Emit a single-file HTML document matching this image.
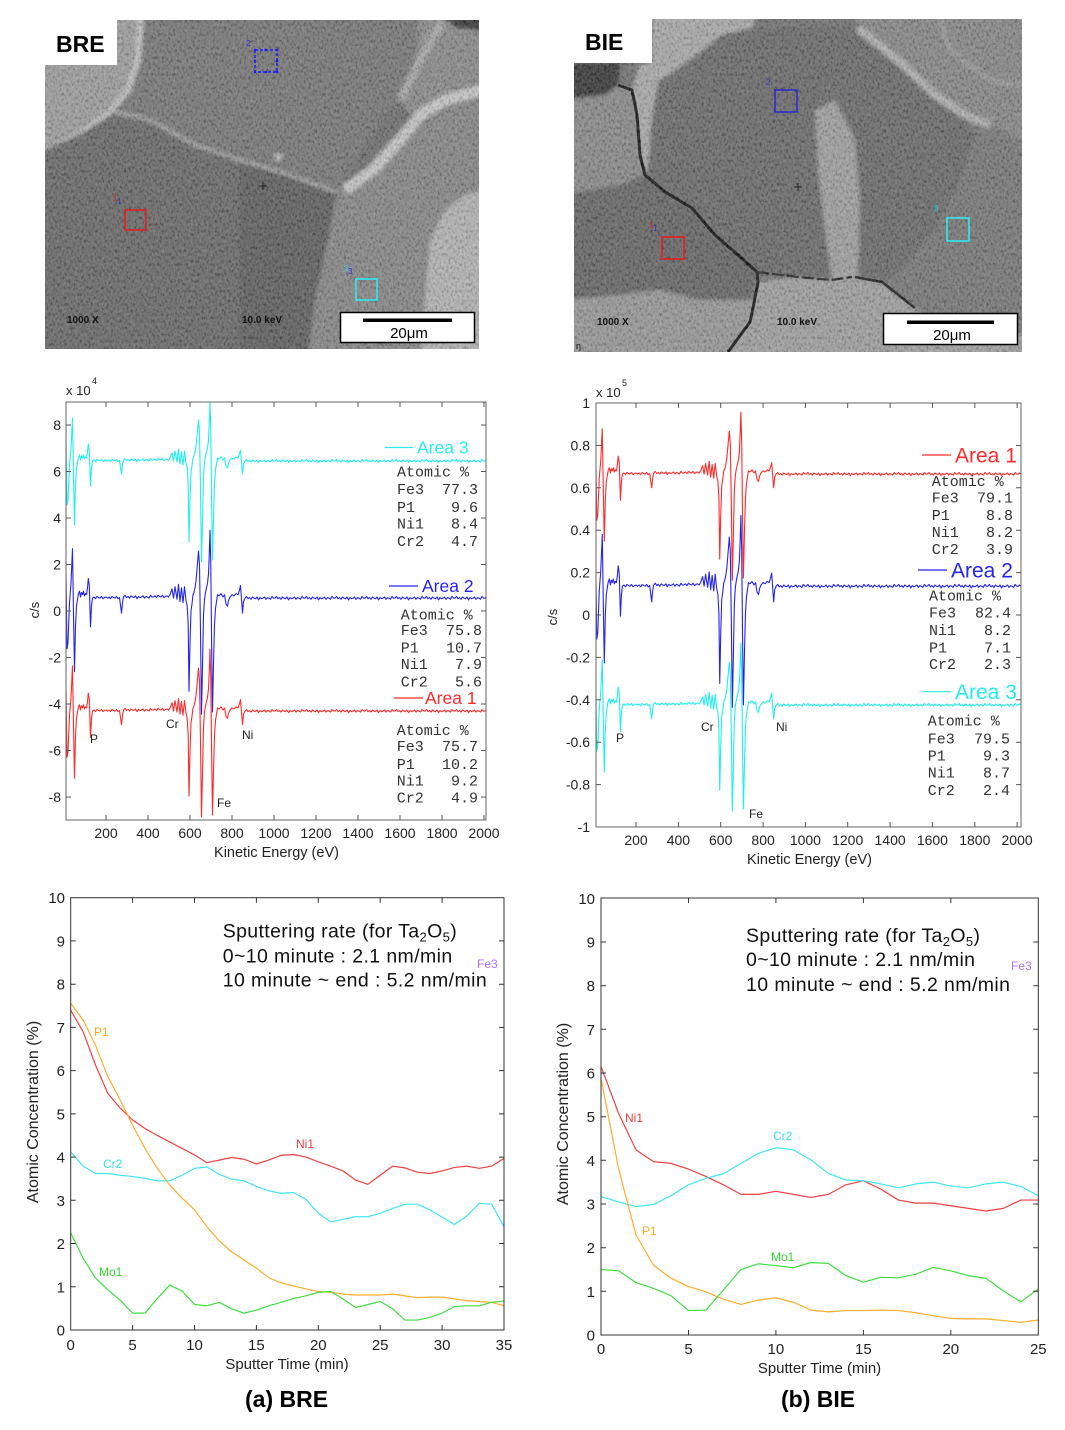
<!DOCTYPE html>
<html><head><meta charset="utf-8"><style>
html,body{margin:0;padding:0;background:#fff;}
svg{display:block;}
text{font-family:"Liberation Sans",Arial,sans-serif;}
.mono{font-family:"Liberation Mono","Courier New",monospace;font-size:15px;fill:#333;}
.tk{font-size:14px;fill:#222;}
.tb{font-size:15px;fill:#222;}
</style></head><body>
<svg width="1065" height="1430" viewBox="0 0 1065 1430" xmlns="http://www.w3.org/2000/svg">
<defs>
<clipPath id="c1"><rect x="45" y="20" width="434" height="329"/></clipPath>
<clipPath id="c2"><rect x="574" y="19" width="448" height="333"/></clipPath>
<clipPath id="cs1"><rect x="66" y="402" width="420" height="418"/></clipPath>
<clipPath id="cs2"><rect x="596" y="403" width="425" height="424"/></clipPath>
<clipPath id="cb1"><rect x="70.7" y="897.7" width="433.3" height="432.3"/></clipPath>
<clipPath id="cb2"><rect x="601" y="898" width="437.3" height="437"/></clipPath>
<filter id="soft" x="-5%" y="-5%" width="110%" height="110%"><feGaussianBlur stdDeviation="1.8"/></filter>
<filter id="tex" x="0" y="0" width="1" height="1"><feTurbulence type="fractalNoise" baseFrequency="0.45 0.3" numOctaves="3" seed="7"/><feColorMatrix type="matrix" values="1.6 0 0 0 -0.42  1.6 0 0 0 -0.42  1.6 0 0 0 -0.42  0 0 0 0 0.2"/></filter>
<path id="sp" fill="none" vector-effect="non-scaling-stroke" stroke-linejoin="round" d="M66,-20 L67,45 L68,40 L69.5,5 L71,-12 L72.5,-42 L73.5,15 L74.5,65 L75.5,25 L76.5,8 L77.5,2 L78.5,-3 L79.5,-5 L80.5,0 L81.5,-4 L82.5,-2 L83.5,-5 L84.5,-1 L85.5,-3 L86.5,-2 L87.5,-8 L88.3,-16 L89.3,-10 L90.5,26 L91.5,8 L92.5,1
l1.5,-1 l1.5,1.5 l1.5,-2 l1.5,1 l1.5,0.5 l1.5,-1.5 l1.5,2 l1.5,-1 l1.5,-0.5 l1.5,1
l1.5,-1 l1.5,1.5 l1.5,-2 l1.5,1 l1.5,0.5 l1.5,-1.5 l1.5,2 l1.5,-1
L121.5,14 L122.5,5 L123.5,0
l1.5,-1.5 l1.5,2 l1.5,-1 l1.5,1.5 l1.5,-2 l1.5,1 l1.5,0.5 l1.5,-1.5 l1.5,2.5 l1.5,-2 l1.5,1 l1.5,-0.5 l1.5,-1 l1.5,2 l1.5,-1.5 l1.5,0.5 l1.5,1 l1.5,-2.5 l1.5,1.5 l1.5,0
l1.5,-1 l1.5,1.5 l1.5,-2 l1.5,1 l1.5,0.5 l1.5,-1.5 l1.5,2 l1.5,-1 l1.5,-0.5 l1.5,1
L170,-2 L172,-7 L173.5,1 L175,-9 L177,2 L178.5,-11 L180,4 L181.5,-8 L183,5 L184.5,-9 L186,3 L187.2,8 L188.2,24 L189,82 L190,40 L191,12 L192,6 L193,-2 L194,-4 L195,-8 L196,-14 L197,-24 L198.5,-40 L199.5,-28 L200.5,30 L201.5,102 L202.5,60 L203.5,16 L204.5,2 L205.5,-4 L206.5,-8 L207.5,-12 L208.5,-20 L209.3,-38 L210,-58 L210.8,-28 L211.6,40 L212.5,100 L213.5,58 L214.5,24 L215.5,10 L216.5,4 L217.5,-2 L219,-1 L221,-3 L223,0 L224.5,-2 L226,6 L227.5,8 L228.5,3 L230,0 L232,-2 L234,-1 L236,-3 L238,-2 L239.5,-6 L240.5,-10 L241.5,2 L242.5,14 L243.5,4 L245,1
l1.5,-1.5 l1.5,2 l1.5,-1 l1.5,1.5 l1.5,-2 l1.5,1 l1.5,0.5 l1.5,-1.5 l1.5,2.5 l1.5,-2 l1.5,1 l1.5,-0.5 l1.5,-1 l1.5,2 l1.5,-1.5 l1.5,0.5 l1.5,1 l1.5,-2.5 l1.5,1.5 l1.5,0
l1.5,-1.5 l1.5,2 l1.5,-1 l1.5,1.5 l1.5,-2 l1.5,1 l1.5,0.5 l1.5,-1.5 l1.5,2.5 l1.5,-2 l1.5,1 l1.5,-0.5 l1.5,-1 l1.5,2 l1.5,-1.5 l1.5,0.5 l1.5,1 l1.5,-2.5 l1.5,1.5 l1.5,0
l1.5,-1.5 l1.5,2 l1.5,-1 l1.5,1.5 l1.5,-2 l1.5,1 l1.5,0.5 l1.5,-1.5 l1.5,2.5 l1.5,-2 l1.5,1 l1.5,-0.5 l1.5,-1 l1.5,2 l1.5,-1.5 l1.5,0.5 l1.5,1 l1.5,-2.5 l1.5,1.5 l1.5,0
l1.5,-1.5 l1.5,2 l1.5,-1 l1.5,1.5 l1.5,-2 l1.5,1 l1.5,0.5 l1.5,-1.5 l1.5,2.5 l1.5,-2 l1.5,1 l1.5,-0.5 l1.5,-1 l1.5,2 l1.5,-1.5 l1.5,0.5 l1.5,1 l1.5,-2.5 l1.5,1.5 l1.5,0
l1.5,-1.5 l1.5,2 l1.5,-1 l1.5,1.5 l1.5,-2 l1.5,1 l1.5,0.5 l1.5,-1.5 l1.5,2.5 l1.5,-2 l1.5,1 l1.5,-0.5 l1.5,-1 l1.5,2 l1.5,-1.5 l1.5,0.5 l1.5,1 l1.5,-2.5 l1.5,1.5 l1.5,0
l1.5,-1.5 l1.5,2 l1.5,-1 l1.5,1.5 l1.5,-2 l1.5,1 l1.5,0.5 l1.5,-1.5 l1.5,2.5 l1.5,-2 l1.5,1 l1.5,-0.5 l1.5,-1 l1.5,2 l1.5,-1.5 l1.5,0.5 l1.5,1 l1.5,-2.5 l1.5,1.5 l1.5,0
l1.5,-1.5 l1.5,2 l1.5,-1 l1.5,1.5 l1.5,-2 l1.5,1 l1.5,0.5 l1.5,-1.5 l1.5,2.5 l1.5,-2 l1.5,1 l1.5,-0.5 l1.5,-1 l1.5,2 l1.5,-1.5 l1.5,0.5 l1.5,1 l1.5,-2.5 l1.5,1.5 l1.5,0
l1.5,-1.5 l1.5,2 l1.5,-1 l1.5,1.5 l1.5,-2 l1.5,1 l1.5,0.5 l1.5,-1.5 l1.5,2.5 l1.5,-2 l1.5,1 l1.5,-0.5 l1.5,-1 l1.5,2 l1.5,-1.5 l1.5,0.5 l1.5,1 l1.5,-2.5 l1.5,1.5 l1.5,0
l1.5,-1 l1.5,1 l1.5,-1"/>
</defs>

<!-- ============ LEFT SEM (BRE) ============ -->
<g clip-path="url(#c1)">
<rect x="45" y="20" width="434" height="329" fill="#6c6c6c"/>
<g filter="url(#soft)">
<polygon points="140,20 440,20 420,60 400,100 380,120 337,192 300,175 260,165 195,145 150,118 115,112 128,90 138,60" fill="#747474"/>
<polygon points="30,10 140,10 138,60 128,90 108,114 82,133 60,145 30,155" fill="#9c9c9c"/>
<polyline points="141,15 138,60 128,90 108,114 82,133 60,145 40,154" fill="none" stroke="#c2c2c2" stroke-width="6"/>
<polygon points="40,152 82,133 115,112 150,118 195,145 240,160 240,360 40,360" fill="#666"/>
<polygon points="240,160 300,180 337,192 330,230 315,300 307,360 240,360" fill="#5b5b5b"/>
<polyline points="115,112 150,120 195,145 240,160 290,175 337,192" fill="none" stroke="#a0a0a0" stroke-width="4"/>
<polygon points="337,192 360,175 380,150 405,125 440,100 490,90 490,360 307,360 315,300 330,230" fill="#848484"/>
<polygon points="420,10 490,10 490,90 440,100 410,115 400,100 415,60" fill="#888"/>
<polyline points="490,88 445,100 420,115 400,140 375,168 345,190" fill="none" stroke="#c6c6c6" stroke-width="11"/>
<polyline points="442,22 420,60 400,100" fill="none" stroke="#a8a8a8" stroke-width="8"/>
<polygon points="438,10 490,10 490,32 455,27" fill="#333"/>
<polygon points="420,360 425,300 430,240 445,210 465,195 490,188 490,360" fill="#b2b2b2"/>
<circle cx="278" cy="157" r="4" fill="#b8b8b8"/>
</g>
<rect x="45" y="20" width="434" height="329" filter="url(#tex)"/>
</g>
<rect x="45" y="20" width="72" height="45" fill="#fff"/>
<text x="56" y="52" font-size="23" font-weight="bold" fill="#000">BRE</text>
<rect x="255" y="50" width="22" height="22" fill="none" stroke="#1a1aff" stroke-width="1.5" stroke-dasharray="3,2"/>
<g fill="#1a1aff"><circle cx="255" cy="50" r="1.3"/><circle cx="266" cy="50" r="1.3"/><circle cx="277" cy="50" r="1.3"/><circle cx="255" cy="61" r="1.3"/><circle cx="277" cy="61" r="1.3"/><circle cx="255" cy="72" r="1.3"/><circle cx="266" cy="72" r="1.3"/><circle cx="277" cy="72" r="1.3"/></g>
<text x="246" y="46" font-size="8" fill="#3030e0">2</text>
<rect x="125" y="210" width="21" height="20" fill="none" stroke="#e02020" stroke-width="1.6"/>
<text x="113" y="201" font-size="8" fill="#e02020">1</text><text x="117" y="204" font-size="8" fill="#3030e0">1</text>
<rect x="356" y="279" width="21" height="21" fill="none" stroke="#30e8f0" stroke-width="1.6"/>
<text x="344" y="271" font-size="8" fill="#30d0e0">3</text><text x="348" y="274" font-size="8" fill="#3030e0">3</text>
<path d="M259,186h8M263,182v8" stroke="#222" stroke-width="1"/>
<text x="67" y="323" font-size="10" font-weight="bold" fill="#111">1000 X</text>
<text x="242" y="323" font-size="10" font-weight="bold" fill="#111">10.0 keV</text>
<rect x="340.5" y="312.5" width="134" height="30" fill="#fff" stroke="#000" stroke-width="1.5"/>
<rect x="363" y="318.5" width="89" height="3.5" fill="#000"/>
<text x="409" y="338" font-size="15" text-anchor="middle" fill="#000">20μm</text>

<!-- ============ RIGHT SEM (BIE) ============ -->
<g clip-path="url(#c2)">
<rect x="574" y="19" width="448" height="333" fill="#707070"/>
<g filter="url(#soft)">
<polygon points="560,100 605,95 618,85 632,90 637,115 640,155 645,175 620,185 560,195" fill="#888"/>
<polygon points="560,195 620,185 645,175 665,192 692,208 715,235 738,255 757,272 753,300 730,305 700,300 660,290 620,295 560,300" fill="#646464"/>
<polygon points="560,300 620,295 660,290 700,300 753,300 753,308 728,365 560,365" fill="#969696"/>
<polygon points="753,300 757,282 798,277 832,280 852,277 882,282 915,308 940,330 1035,335 1035,365 728,365" fill="#9e9e9e"/>
<polygon points="632,90 640,63 652,63 652,10 760,10 752,28 722,35 690,60 658,82 652,120 650,160 645,175 640,155 637,115" fill="#a8a8a8"/>
<polygon points="658,82 690,60 722,35 752,28 858,28 900,60 935,95 965,115 975,135 960,180 935,230 900,270 882,282 852,277 832,280 798,277 757,272 738,255 715,235 692,208 665,192 648,175 650,140 652,120" fill="#676767"/>
<polygon points="815,110 835,100 855,140 860,200 858,280 832,280 825,230 818,170" fill="#9e9e9e"/>
<polygon points="965,115 1000,130 1035,150 1035,335 940,330 915,308 882,282 900,270 935,230 960,180 975,135" fill="#747474"/>
<polygon points="858,10 1035,10 1035,150 1000,130 965,115 935,95 900,60 858,28" fill="#858585"/>
<polyline points="858,28 900,62 935,95 965,115 990,125" fill="none" stroke="#b0b0b0" stroke-width="8"/>
<polyline points="940,19 950,50 990,80 1022,85" fill="none" stroke="#9c9c9c" stroke-width="4"/>
<polygon points="560,63 620,63 618,85 605,95 560,100" fill="#353535"/>
</g>
<polyline points="618,85 632,90 637,115 640,155 645,175 665,192 692,208 715,235 738,255 757,272 758,282 753,308 750,322 728,352" fill="none" stroke="#111" stroke-width="3" stroke-linejoin="round"/>
<polyline points="757,272 798,277 832,280 852,277" fill="none" stroke="#222" stroke-width="2.2" stroke-dasharray="12,3"/>
<polyline points="855,277 882,282 915,308" fill="none" stroke="#1a1a1a" stroke-width="2.6"/>
<rect x="574" y="19" width="448" height="333" filter="url(#tex)"/>
</g>
<rect x="574" y="19" width="78" height="44" fill="#fff"/>
<text x="585" y="50" font-size="23" font-weight="bold" fill="#000">BIE</text>
<rect x="775" y="90" width="22" height="22" fill="none" stroke="#2828d0" stroke-width="1.5"/>
<text x="766" y="85" font-size="8" fill="#3030e0">2</text>
<rect x="662" y="237" width="22" height="22" fill="none" stroke="#e02020" stroke-width="1.6"/>
<text x="649" y="228" font-size="8" fill="#e02020">1</text><text x="653" y="231" font-size="8" fill="#3030e0">1</text>
<rect x="947" y="218" width="22" height="23" fill="none" stroke="#30e8f0" stroke-width="1.6"/>
<text x="934" y="211" font-size="8" fill="#30d0e0">3</text>
<path d="M794,187h8M798,183v8" stroke="#222" stroke-width="1"/>
<text x="597" y="325" font-size="10" font-weight="bold" fill="#111">1000 X</text>
<text x="777" y="325" font-size="10" font-weight="bold" fill="#111">10.0 keV</text>
<text x="576" y="349" font-size="9" fill="#111">η</text>
<rect x="883.5" y="313.5" width="134" height="31" fill="#fff" stroke="#000" stroke-width="1.5"/>
<rect x="907" y="320.5" width="87" height="3.5" fill="#000"/>
<text x="952" y="340" font-size="15" text-anchor="middle" fill="#000">20μm</text>

<!-- ============ LEFT SPECTRUM ============ -->
<g clip-path="url(#cs1)" stroke-width="1.1">
<use href="#sp" transform="translate(0,710) scale(1,1.05)" stroke="#ff2a2a"/>
<use href="#sp" transform="translate(0,597) scale(1,1.15)" stroke="#2424f0"/>
<use href="#sp" transform="translate(0,460)" stroke="#22eeee"/>
</g>
<rect x="66" y="402" width="420" height="418" fill="none" stroke="#666" stroke-width="1"/>
<path fill="none" stroke="#555" stroke-width="1" d="M66,425h5M66,471.5h5M66,518h5M66,564.5h5M66,611h5M66,657.5h5M66,704h5M66,750.5h5M66,797h5
M486,425h-5M486,471.5h-5M486,518h-5M486,564.5h-5M486,611h-5M486,657.5h-5M486,704h-5M486,750.5h-5M486,797h-5
M106,820v-5M148,820v-5M190,820v-5M232,820v-5M274,820v-5M316,820v-5M358,820v-5M400,820v-5M442,820v-5M484,820v-5
M106,402v5M148,402v5M190,402v5M232,402v5M274,402v5M316,402v5M358,402v5M400,402v5M442,402v5M484,402v5"/>
<g class="tk" text-anchor="end">
<text x="61" y="430">8</text><text x="61" y="476.5">6</text><text x="61" y="523">4</text><text x="61" y="569.5">2</text><text x="61" y="616">0</text><text x="61" y="662.5">-2</text><text x="61" y="709">-4</text><text x="61" y="755.5">-6</text><text x="61" y="802">-8</text>
</g>
<g class="tk" text-anchor="middle">
<text x="106" y="838">200</text><text x="148" y="838">400</text><text x="190" y="838">600</text><text x="232" y="838">800</text><text x="274" y="838">1000</text><text x="316" y="838">1200</text><text x="358" y="838">1400</text><text x="400" y="838">1600</text><text x="442" y="838">1800</text><text x="484" y="838">2000</text>
</g>
<text x="66" y="395" font-size="13" fill="#222">x 10</text><text x="92" y="384" font-size="9" fill="#222">4</text>
<text transform="translate(39,610) rotate(-90)" font-size="13" text-anchor="middle" fill="#222">c/s</text>
<text x="276.5" y="857" font-size="14.5" text-anchor="middle" fill="#222">Kinetic Energy (eV)</text>
<g font-size="12" fill="#222"><text x="90" y="743">P</text><text x="166" y="728">Cr</text><text x="242" y="739">Ni</text><text x="217" y="807">Fe</text></g>
<line x1="385" y1="447.5" x2="413" y2="447.5" stroke="#22eeee" stroke-width="1.2"/>
<text x="417" y="453.5" font-size="17.5" fill="#22eeee">Area 3</text>
<text class="mono" x="397" y="476.7">Atomic %</text>
<text class="mono" x="397" y="494">Fe3</text><text class="mono" x="397" y="512">P1</text><text class="mono" x="397" y="528.3">Ni1</text><text class="mono" x="397" y="546">Cr2</text>
<g text-anchor="end"><text class="mono" x="478" y="494">77.3</text><text class="mono" x="478" y="512">9.6</text><text class="mono" x="478" y="528.3">8.4</text><text class="mono" x="478" y="546">4.7</text></g>
<line x1="389" y1="586" x2="418" y2="586" stroke="#2424f0" stroke-width="1.2"/>
<text x="422" y="592" font-size="17.5" fill="#2424f0">Area 2</text>
<text class="mono" x="400.7" y="619.3">Atomic %</text>
<text class="mono" x="400.7" y="635">Fe3</text><text class="mono" x="400.7" y="652.7">P1</text><text class="mono" x="400.7" y="669">Ni1</text><text class="mono" x="400.7" y="686.7">Cr2</text>
<g text-anchor="end"><text class="mono" x="482" y="635">75.8</text><text class="mono" x="482" y="652.7">10.7</text><text class="mono" x="482" y="669">7.9</text><text class="mono" x="482" y="686.7">5.6</text></g>
<line x1="394" y1="698" x2="423" y2="698" stroke="#ff2a2a" stroke-width="1.2"/>
<text x="425" y="704" font-size="17.5" fill="#ff2a2a">Area 1</text>
<text class="mono" x="396.7" y="735">Atomic %</text>
<text class="mono" x="396.7" y="751">Fe3</text><text class="mono" x="396.7" y="769">P1</text><text class="mono" x="396.7" y="785.7">Ni1</text><text class="mono" x="396.7" y="802.7">Cr2</text>
<g text-anchor="end"><text class="mono" x="478" y="751">75.7</text><text class="mono" x="478" y="769">10.2</text><text class="mono" x="478" y="785.7">9.2</text><text class="mono" x="478" y="802.7">4.9</text></g>

<!-- ============ RIGHT SPECTRUM ============ -->
<g clip-path="url(#cs2)" stroke-width="1.1">
<use href="#sp" transform="translate(529.2,704) scale(1.0081,1.05)" stroke="#22eeee"/>
<use href="#sp" transform="translate(529.2,585) scale(1.0081,1.2)" stroke="#2424f0"/>
<use href="#sp" transform="translate(529.2,473) scale(1.0081,1.05)" stroke="#ff2a2a"/>
</g>
<rect x="596" y="403" width="425" height="424" fill="none" stroke="#666" stroke-width="1"/>
<path fill="none" stroke="#555" stroke-width="1" d="M596,445.4h5M596,487.8h5M596,530.2h5M596,572.6h5M596,615h5M596,657.4h5M596,699.8h5M596,742.2h5M596,784.6h5
M1021,445.4h-5M1021,487.8h-5M1021,530.2h-5M1021,572.6h-5M1021,615h-5M1021,657.4h-5M1021,699.8h-5M1021,742.2h-5M1021,784.6h-5
M636,827v-5M678.4,827v-5M720.7,827v-5M763.1,827v-5M805.4,827v-5M847.7,827v-5M890.1,827v-5M932.4,827v-5M974.8,827v-5M1017.1,827v-5
M636,403v5M678.4,403v5M720.7,403v5M763.1,403v5M805.4,403v5M847.7,403v5M890.1,403v5M932.4,403v5M974.8,403v5M1017.1,403v5"/>
<g class="tk" text-anchor="end">
<text x="590" y="408">1</text><text x="590" y="450.4">0.8</text><text x="590" y="492.8">0.6</text><text x="590" y="535.2">0.4</text><text x="590" y="577.6">0.2</text><text x="590" y="620">0</text><text x="590" y="662.4">-0.2</text><text x="590" y="704.8">-0.4</text><text x="590" y="747.2">-0.6</text><text x="590" y="789.6">-0.8</text><text x="590" y="832">-1</text>
</g>
<g class="tk" text-anchor="middle">
<text x="636" y="845">200</text><text x="678.4" y="845">400</text><text x="720.7" y="845">600</text><text x="763.1" y="845">800</text><text x="805.4" y="845">1000</text><text x="847.7" y="845">1200</text><text x="890.1" y="845">1400</text><text x="932.4" y="845">1600</text><text x="974.8" y="845">1800</text><text x="1017.1" y="845">2000</text>
</g>
<text x="596" y="397" font-size="13" fill="#222">x 10</text><text x="622" y="386" font-size="9" fill="#222">5</text>
<text transform="translate(557,617) rotate(-90)" font-size="13" text-anchor="middle" fill="#222">c/s</text>
<text x="809.5" y="864" font-size="14.5" text-anchor="middle" fill="#222">Kinetic Energy (eV)</text>
<g font-size="12" fill="#222"><text x="616" y="742">P</text><text x="701" y="731">Cr</text><text x="776" y="731">Ni</text><text x="749" y="818">Fe</text></g>
<line x1="922" y1="455" x2="951" y2="455" stroke="#ff2a2a" stroke-width="1.2"/>
<text x="955" y="462.5" font-size="21" fill="#ff2a2a">Area 1</text>
<text class="mono" x="931.7" y="486">Atomic %</text>
<text class="mono" x="931.7" y="502.7">Fe3</text><text class="mono" x="931.7" y="520">P1</text><text class="mono" x="931.7" y="537">Ni1</text><text class="mono" x="931.7" y="554">Cr2</text>
<g text-anchor="end"><text class="mono" x="1013" y="502.7">79.1</text><text class="mono" x="1013" y="520">8.8</text><text class="mono" x="1013" y="537">8.2</text><text class="mono" x="1013" y="554">3.9</text></g>
<line x1="918" y1="570" x2="947" y2="570" stroke="#2424f0" stroke-width="1.2"/>
<text x="951" y="577.5" font-size="21" fill="#2424f0">Area 2</text>
<text class="mono" x="929" y="600.7">Atomic %</text>
<text class="mono" x="929" y="617.7">Fe3</text><text class="mono" x="929" y="635">Ni1</text><text class="mono" x="929" y="652.7">P1</text><text class="mono" x="929" y="669">Cr2</text>
<g text-anchor="end"><text class="mono" x="1011" y="617.7">82.4</text><text class="mono" x="1011" y="635">8.2</text><text class="mono" x="1011" y="652.7">7.1</text><text class="mono" x="1011" y="669">2.3</text></g>
<line x1="922" y1="691.7" x2="951" y2="691.7" stroke="#22eeee" stroke-width="1.2"/>
<text x="955" y="699" font-size="21" fill="#22eeee">Area 3</text>
<text class="mono" x="927.7" y="725.7">Atomic %</text>
<text class="mono" x="927.7" y="743.3">Fe3</text><text class="mono" x="927.7" y="760.7">P1</text><text class="mono" x="927.7" y="777.3">Ni1</text><text class="mono" x="927.7" y="795">Cr2</text>
<g text-anchor="end"><text class="mono" x="1010" y="743.3">79.5</text><text class="mono" x="1010" y="760.7">9.3</text><text class="mono" x="1010" y="777.3">8.7</text><text class="mono" x="1010" y="795">2.4</text></g>

<!-- ============ BOTTOM LEFT DEPTH PROFILE ============ -->
<g clip-path="url(#cb1)" fill="none" stroke-width="1.2" stroke-linejoin="round">
<g transform="translate(70.7,1330) scale(12.38,-43.23)">
<polyline vector-effect="non-scaling-stroke" stroke="#f04040" points="0,7.4 1,6.9 2,6.13 3,5.47 4,5.13 5,4.86 6,4.66 7,4.5 8,4.35 9,4.2 10,4.05 11,3.87 12,3.93 13,3.99 14,3.95 15,3.84 16,3.93 17,4.04 18,4.06 19,4.0 20,3.89 21,3.79 22,3.68 23,3.47 24,3.37 25,3.58 26,3.79 27,3.75 28,3.65 29,3.62 30,3.68 31,3.76 32,3.79 33,3.74 34,3.79 35,3.97"/>
<polyline vector-effect="non-scaling-stroke" stroke="#3ee6f6" points="0,4.12 1,3.79 2,3.62 3,3.62 4,3.58 5,3.55 6,3.51 7,3.45 8,3.45 9,3.58 10,3.74 11,3.77 12,3.6 13,3.49 14,3.45 15,3.32 16,3.22 17,3.16 18,3.18 19,3.02 20,2.7 21,2.5 22,2.56 23,2.62 24,2.62 25,2.7 26,2.81 27,2.91 28,2.91 29,2.78 30,2.61 31,2.44 32,2.64 33,2.93 34,2.91 35,2.39"/>
<polyline vector-effect="non-scaling-stroke" stroke="#ffad2a" points="0,7.56 1,7.17 2,6.59 3,5.86 4,5.32 5,4.74 6,4.2 7,3.74 8,3.35 9,3.05 10,2.78 11,2.39 12,2.06 13,1.81 14,1.62 15,1.43 16,1.21 17,1.09 18,1.02 19,0.95 20,0.89 21,0.87 22,0.83 23,0.81 24,0.81 25,0.81 26,0.83 27,0.79 28,0.75 29,0.76 30,0.76 31,0.72 32,0.68 33,0.66 34,0.64 35,0.56"/>
<polyline vector-effect="non-scaling-stroke" stroke="#3ede3e" points="0,2.25 1,1.66 2,1.2 3,0.93 4,0.69 5,0.39 6,0.39 7,0.73 8,1.04 9,0.9 10,0.59 11,0.56 12,0.64 13,0.49 14,0.39 15,0.46 16,0.56 17,0.64 18,0.73 19,0.79 20,0.87 21,0.89 22,0.72 23,0.52 24,0.59 25,0.66 26,0.49 27,0.23 28,0.23 29,0.29 30,0.39 31,0.54 32,0.56 33,0.56 34,0.64 35,0.67"/>
</g>
</g>
<rect x="70.7" y="897.7" width="433.3" height="432.3" fill="none" stroke="#333" stroke-width="1"/>
<path fill="none" stroke="#333" stroke-width="1" d="M70.7,1286.8h5M70.7,1243.5h5M70.7,1200.3h5M70.7,1157.1h5M70.7,1113.9h5M70.7,1070.6h5M70.7,1027.4h5M70.7,984.2h5M70.7,940.9h5
M504,1286.8h-5M504,1243.5h-5M504,1200.3h-5M504,1157.1h-5M504,1113.9h-5M504,1070.6h-5M504,1027.4h-5M504,984.2h-5M504,940.9h-5
M132.6,1330v-5M194.5,1330v-5M256.4,1330v-5M318.3,1330v-5M380.2,1330v-5M442.1,1330v-5
M132.6,897.7v5M194.5,897.7v5M256.4,897.7v5M318.3,897.7v5M380.2,897.7v5M442.1,897.7v5"/>
<g class="tb" text-anchor="end">
<text x="65" y="1335.5">0</text><text x="65" y="1292.3">1</text><text x="65" y="1249">2</text><text x="65" y="1205.8">3</text><text x="65" y="1162.6">4</text><text x="65" y="1119.4">5</text><text x="65" y="1076.1">6</text><text x="65" y="1032.9">7</text><text x="65" y="989.7">8</text><text x="65" y="946.4">9</text><text x="65" y="903.2">10</text>
</g>
<g class="tb" text-anchor="middle">
<text x="70.7" y="1350">0</text><text x="132.6" y="1350">5</text><text x="194.5" y="1350">10</text><text x="256.4" y="1350">15</text><text x="318.3" y="1350">20</text><text x="380.2" y="1350">25</text><text x="442.1" y="1350">30</text><text x="504" y="1350">35</text>
</g>
<text x="287" y="1369" font-size="15" text-anchor="middle" fill="#222">Sputter Time (min)</text>
<text transform="translate(38,1112) rotate(-90)" font-size="16" text-anchor="middle" fill="#222">Atomic Concentration (%)</text>
<g font-size="19.5" fill="#111">
<text x="222.7" y="937.6" textLength="234" lengthAdjust="spacing">Sputtering  rate  (for Ta<tspan font-size="13" dy="4">2</tspan><tspan dy="-4">O</tspan><tspan font-size="13" dy="4">5</tspan><tspan dy="-4">)</tspan></text>
<text x="222.7" y="962.6" textLength="229.5" lengthAdjust="spacing">0~10  minute  : 2.1  nm/min</text>
<text x="222.7" y="986.6" textLength="264" lengthAdjust="spacing">10  minute  ~  end  :  5.2  nm/min</text>
</g>
<g font-size="12">
<text x="477" y="968" fill="#b070f0">Fe3</text>
<text x="94" y="1036" fill="#ffa820">P1</text>
<text x="296" y="1148" fill="#f03a3a">Ni1</text>
<text x="103" y="1168" fill="#30e0f0">Cr2</text>
<text x="99" y="1276" fill="#30d830">Mo1</text>
</g>

<!-- ============ BOTTOM RIGHT DEPTH PROFILE ============ -->
<g clip-path="url(#cb2)" fill="none" stroke-width="1.2" stroke-linejoin="round">
<g transform="translate(601,1335) scale(17.49,-43.67)">
<polyline vector-effect="non-scaling-stroke" stroke="#f04040" points="0,6.15 1,5.08 2,4.24 3,3.97 4,3.93 5,3.8 6,3.63 7,3.44 8,3.22 9,3.22 10,3.29 11,3.22 12,3.15 13,3.22 14,3.44 15,3.53 16,3.34 17,3.09 18,3.02 19,3.02 20,2.96 21,2.9 22,2.84 23,2.9 24,3.09 25,3.09"/>
<polyline vector-effect="non-scaling-stroke" stroke="#3ee6f6" points="0,3.17 1,3.05 2,2.94 3,2.99 4,3.19 5,3.44 6,3.59 7,3.69 8,3.93 9,4.16 10,4.29 11,4.24 12,4.01 13,3.7 14,3.55 15,3.53 16,3.46 17,3.37 18,3.46 19,3.5 20,3.41 21,3.37 22,3.46 23,3.5 24,3.4 25,3.19"/>
<polyline vector-effect="non-scaling-stroke" stroke="#ffad2a" points="0,5.88 1,3.82 2,2.29 3,1.6 4,1.3 5,1.11 6,0.99 7,0.82 8,0.7 9,0.8 10,0.85 11,0.75 12,0.57 13,0.53 14,0.56 15,0.56 16,0.57 17,0.56 18,0.51 19,0.44 20,0.38 21,0.37 22,0.37 23,0.33 24,0.29 25,0.34"/>
<polyline vector-effect="non-scaling-stroke" stroke="#3ede3e" points="0,1.5 1,1.47 2,1.2 3,1.07 4,0.9 5,0.56 6,0.57 7,1.03 8,1.5 9,1.63 10,1.59 11,1.54 12,1.66 13,1.64 14,1.36 15,1.21 16,1.32 17,1.31 18,1.39 19,1.55 20,1.47 21,1.36 22,1.3 23,1.01 24,0.76 25,1.05"/>
</g>
</g>
<rect x="601" y="898" width="437.3" height="437" fill="none" stroke="#333" stroke-width="1"/>
<path fill="none" stroke="#333" stroke-width="1" d="M601,1291.3h5M601,1247.7h5M601,1204h5M601,1160.3h5M601,1116.7h5M601,1073h5M601,1029.3h5M601,985.7h5M601,942h5
M1038.3,1291.3h-5M1038.3,1247.7h-5M1038.3,1204h-5M1038.3,1160.3h-5M1038.3,1116.7h-5M1038.3,1073h-5M1038.3,1029.3h-5M1038.3,985.7h-5M1038.3,942h-5
M688.5,1335v-5M775.9,1335v-5M863.4,1335v-5M950.8,1335v-5
M688.5,898v5M775.9,898v5M863.4,898v5M950.8,898v5"/>
<g class="tb" text-anchor="end">
<text x="595" y="1340.5">0</text><text x="595" y="1296.8">1</text><text x="595" y="1253.2">2</text><text x="595" y="1209.5">3</text><text x="595" y="1165.8">4</text><text x="595" y="1122.2">5</text><text x="595" y="1078.5">6</text><text x="595" y="1034.8">7</text><text x="595" y="991.2">8</text><text x="595" y="947.5">9</text><text x="595" y="903.8">10</text>
</g>
<g class="tb" text-anchor="middle">
<text x="601" y="1354">0</text><text x="688.5" y="1354">5</text><text x="775.9" y="1354">10</text><text x="863.4" y="1354">15</text><text x="950.8" y="1354">20</text><text x="1038.3" y="1354">25</text>
</g>
<text x="819.5" y="1373" font-size="15" text-anchor="middle" fill="#222">Sputter Time (min)</text>
<text transform="translate(568,1114) rotate(-90)" font-size="16" text-anchor="middle" fill="#222">Atomic Concentration (%)</text>
<g font-size="19.5" fill="#111">
<text x="746" y="942" textLength="234" lengthAdjust="spacing">Sputtering  rate  (for Ta<tspan font-size="13" dy="4">2</tspan><tspan dy="-4">O</tspan><tspan font-size="13" dy="4">5</tspan><tspan dy="-4">)</tspan></text>
<text x="746" y="966" textLength="229" lengthAdjust="spacing">0~10  minute  : 2.1  nm/min</text>
<text x="746" y="991" textLength="264" lengthAdjust="spacing">10  minute  ~  end  :  5.2  nm/min</text>
</g>
<g font-size="12">
<text x="1011" y="970" fill="#b070f0">Fe3</text>
<text x="625" y="1122" fill="#f03a3a">Ni1</text>
<text x="773" y="1140" fill="#30e0f0">Cr2</text>
<text x="642" y="1235" fill="#ffa820">P1</text>
<text x="771" y="1261" fill="#30d830">Mo1</text>
</g>

<text x="245" y="1407" font-size="23" font-weight="bold" fill="#000">(a) BRE</text>
<text x="781" y="1407" font-size="23" font-weight="bold" fill="#000">(b) BIE</text>
</svg>
</body></html>
